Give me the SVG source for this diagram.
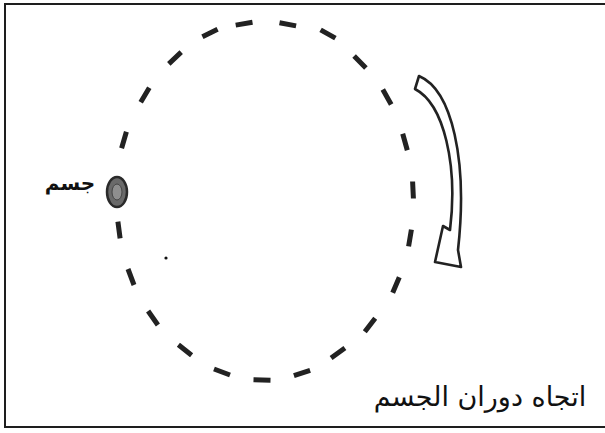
<svg xmlns="http://www.w3.org/2000/svg" width="605" height="433" viewBox="0 0 605 433">
  <style>
    .frame { fill: none; stroke: #1e1e1e; stroke-width: 2; }
    .orbit { fill: none; stroke: #222; stroke-width: 5; stroke-linecap: butt; }
    .arrow { fill: #fff; stroke: #222; stroke-width: 2.6; stroke-linejoin: round; }
    .label { font-family: "DejaVu Sans", sans-serif; fill: #111; direction: rtl; }
  </style>
  <rect width="605" height="433" fill="#fff"/>
  <path class="frame" d="M605,4 H5 V427 H605"/>
  <g id="connectors">
    <path id="orbit" class="orbit" d="
      M235.7,25.1 L252.5,22.3
      M279.5,22.7 L296.1,25.9
      M320.6,29.8 L335.4,38.2
      M354.1,55.9 L365.9,68.1
      M382.8,89.6 L391.2,104.4
      M402.7,133.8 L407.3,150.2
      M412.6,181.5 L413.4,198.5
      M411.4,229.6 L408.6,246.4
      M399.3,277.2 L392.7,292.8
      M375.2,318.3 L364.8,331.7
      M344.9,348.0 L331.1,358.0
      M310.1,370.3 L293.9,375.7
      M270.5,380.2 L253.5,379.8
      M230.0,375.0 L214.0,369.0
      M191.6,355.3 L178.4,344.7
      M157.9,325.0 L148.1,311.0
      M134.0,285.0 L128.0,269.0
      M120.1,238.4 L117.9,221.6
      M121.6,148.2 L126.4,131.8
      M140.7,102.3 L149.3,87.7
      M168.8,63.8 L181.2,52.2
      M202.4,36.7 L217.6,29.3"/>
    <g id="rotation-arrow">
      <path class="arrow" d="M419,76 C452,90 468,160 458,250 L461,267 L435,262 L443,226 L450,230 C458,165 444,104 415,89 Z"/>
    </g>
  </g>
  <g id="body">
    <ellipse cx="117" cy="192" rx="10" ry="15" fill="#6a6a6a" stroke="#2a2a2a" stroke-width="2.5"/>
    <ellipse cx="117" cy="192" rx="5" ry="8" fill="#8e8e8e" stroke="#444" stroke-width="1"/>
  </g>
  <g id="dot">
    <circle cx="166" cy="258" r="1.6" fill="#111"/>
  </g>
  <g id="body-label">
    <text class="label" x="70" y="190" font-size="20" font-weight="bold" text-anchor="middle">جسم</text>
  </g>
  <g id="direction-label">
    <text class="label" x="480" y="406" font-size="27" text-anchor="middle">اتجاه دوران الجسم</text>
  </g>
</svg>
